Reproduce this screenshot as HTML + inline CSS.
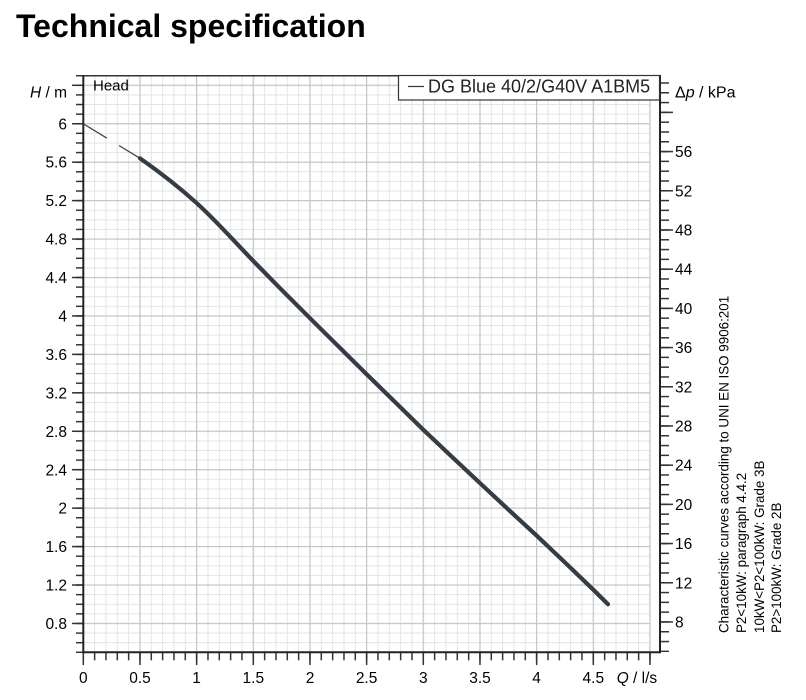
<!DOCTYPE html>
<html><head><meta charset="utf-8"><style>
html,body{margin:0;padding:0;background:#fff;}
svg{display:block;font-family:"Liberation Sans",Arial,sans-serif;}
</style></head><body>
<svg width="806" height="700" viewBox="0 0 806 700" xmlns="http://www.w3.org/2000/svg">
<defs>
<pattern id="gvmin" patternUnits="userSpaceOnUse" x="82.8" y="0" width="11.3333" height="700"><rect x="0" y="0" width="1" height="700" fill="#e4e4e4"/></pattern>
<pattern id="ghmin" patternUnits="userSpaceOnUse" x="0" y="75.2" width="806" height="9.61"><rect x="0" y="0" width="806" height="1" fill="#e4e4e4"/></pattern>
<pattern id="gvmaj" patternUnits="userSpaceOnUse" x="82.7" y="0" width="56.6667" height="700"><rect x="0" y="0" width="1.2" height="700" fill="#c6c6c6"/></pattern>
<pattern id="ghmaj" patternUnits="userSpaceOnUse" x="0" y="84.7" width="806" height="38.44"><rect x="0" y="0" width="806" height="1.2" fill="#c6c6c6"/></pattern>
<pattern id="tlmin" patternUnits="userSpaceOnUse" x="0" y="74.95" width="806" height="9.61"><rect x="0" y="0" width="806" height="1.5" fill="#333"/></pattern>
<pattern id="tlmaj" patternUnits="userSpaceOnUse" x="0" y="84.55" width="806" height="38.44"><rect x="0" y="0" width="806" height="1.5" fill="#333"/></pattern>
<pattern id="tbmin" patternUnits="userSpaceOnUse" x="82.55" y="0" width="11.3333" height="700"><rect x="0" y="0" width="1.5" height="700" fill="#333"/></pattern>
<pattern id="tbmaj" patternUnits="userSpaceOnUse" x="82.55" y="0" width="56.6667" height="700"><rect x="0" y="0" width="1.5" height="700" fill="#333"/></pattern>
<pattern id="trmin" patternUnits="userSpaceOnUse" x="0" y="82.23" width="806" height="9.7995"><rect x="0" y="0" width="806" height="1.5" fill="#333"/></pattern>
<pattern id="trmaj" patternUnits="userSpaceOnUse" x="0" y="111.63" width="806" height="39.198"><rect x="0" y="0" width="806" height="1.5" fill="#333"/></pattern>
</defs>

<!-- title -->
<text x="16" y="37" font-size="32" font-weight="bold" fill="#000">Technical specification</text>

<!-- grid -->
<rect x="82.8" y="75.7" width="568" height="576.6" fill="url(#gvmin)"/>
<rect x="83.3" y="75.2" width="567" height="577.5" fill="url(#ghmin)"/>
<rect x="82.7" y="75.7" width="568.5" height="576.6" fill="url(#gvmaj)"/>
<rect x="83.3" y="84" width="567" height="560" fill="url(#ghmaj)"/>

<!-- ticks -->
<rect x="76" y="74.9" width="7.3" height="578.5" fill="url(#tlmin)"/>
<rect x="72" y="84" width="11.3" height="541" fill="url(#tlmaj)"/>
<rect x="82.5" y="652.3" width="569" height="8" fill="url(#tbmin)"/>
<rect x="82.5" y="652.3" width="569" height="12.7" fill="url(#tbmaj)"/>
<rect x="660" y="82" width="9" height="570" fill="url(#trmin)"/>
<rect x="660" y="111" width="13" height="513" fill="url(#trmaj)"/>

<!-- frame -->
<line x1="83.3" y1="75.7" x2="660.5" y2="75.7" stroke="#333" stroke-width="1.5"/>
<line x1="83.3" y1="652.3" x2="661" y2="652.3" stroke="#222" stroke-width="2"/>
<line x1="83.3" y1="75" x2="83.3" y2="653.3" stroke="#222" stroke-width="2"/>
<line x1="660" y1="75" x2="660" y2="653.3" stroke="#222" stroke-width="2"/>

<!-- curve -->
<path d="M83.3,123.75 L140,158.3" fill="none" stroke="#444" stroke-width="1.3" stroke-dasharray="27.7 14.1 40"/>
<path d="M140,158.3 C158.9,171.5 177.7,185.9 196.6,203 C215.5,220.1 234.4,241.5 253.3,261 L281.6,289.8 L310,318.2 L338.3,346.3 L366.6,374.2 L395,402.0 L423.3,429.7 L451.6,456.5 L480,483.1 L508.3,509.5 L536.6,535.6 L565,562.5 L593.3,589.7 L608,604.3" fill="none" stroke="#343c45" stroke-width="4.2" stroke-linejoin="round" stroke-linecap="round"/>

<!-- legend -->
<rect x="398.5" y="75.5" width="261" height="24.5" fill="#fff" stroke="#333" stroke-width="1.2"/>
<line x1="408" y1="86.5" x2="424" y2="86.5" stroke="#333" stroke-width="1.2"/>
<text x="428" y="92.5" font-size="18" fill="#222">DG Blue 40/2/G40V A1BM5</text>

<!-- axis labels -->
<text x="67" y="97.7" font-size="15.5" text-anchor="end" fill="#000"><tspan font-style="italic">H</tspan> / m</text>
<text x="93" y="90.7" font-size="15" fill="#000">Head</text>
<text x="675" y="97.5" font-size="16" fill="#000">Δ<tspan font-style="italic">p</tspan> / kPa</text>
<text x="616.7" y="683" font-size="15.5" fill="#000"><tspan font-style="italic">Q</tspan> / l/s</text>

<!-- left tick labels -->
<g font-size="15.5" text-anchor="end" fill="#000">
<text x="67" y="129.3">6</text>
<text x="67" y="167.7">5.6</text>
<text x="67" y="206.2">5.2</text>
<text x="67" y="244.6">4.8</text>
<text x="67" y="283.1">4.4</text>
<text x="67" y="321.5">4</text>
<text x="67" y="359.9">3.6</text>
<text x="67" y="398.4">3.2</text>
<text x="67" y="436.8">2.8</text>
<text x="67" y="475.3">2.4</text>
<text x="67" y="513.7">2</text>
<text x="67" y="552.1">1.6</text>
<text x="67" y="590.6">1.2</text>
<text x="67" y="629.0">0.8</text>
</g>

<!-- bottom tick labels -->
<g font-size="15.5" text-anchor="middle" fill="#000">
<text x="83.3" y="683">0</text>
<text x="140" y="683">0.5</text>
<text x="196.6" y="683">1</text>
<text x="253.3" y="683">1.5</text>
<text x="310" y="683">2</text>
<text x="366.6" y="683">2.5</text>
<text x="423.3" y="683">3</text>
<text x="480" y="683">3.5</text>
<text x="536.6" y="683">4</text>
<text x="593.3" y="683">4.5</text>
</g>

<!-- right tick labels -->
<g font-size="15.5" fill="#000">
<text x="675" y="157.1">56</text>
<text x="675" y="196.3">52</text>
<text x="675" y="235.5">48</text>
<text x="675" y="274.7">44</text>
<text x="675" y="313.9">40</text>
<text x="675" y="353.1">36</text>
<text x="675" y="392.3">32</text>
<text x="675" y="431.4">28</text>
<text x="675" y="470.6">24</text>
<text x="675" y="509.9">20</text>
<text x="675" y="549.1">16</text>
<text x="675" y="588.3">12</text>
<text x="675" y="627.5">8</text>
</g>

<!-- rotated notes -->
<g font-size="13.4" fill="#000">
<text transform="translate(728.3,633) rotate(-90)">Characteristic curves according to UNI EN ISO 9906:201</text>
<text transform="translate(746.2,633) rotate(-90)">P2&lt;10kW:  paragraph 4.4.2</text>
<text transform="translate(763.8,633) rotate(-90)">10kW&lt;P2&lt;100kW: Grade 3B</text>
<text transform="translate(781.2,633) rotate(-90)">P2&gt;100kW: Grade 2B</text>
</g>
</svg>
</body></html>
